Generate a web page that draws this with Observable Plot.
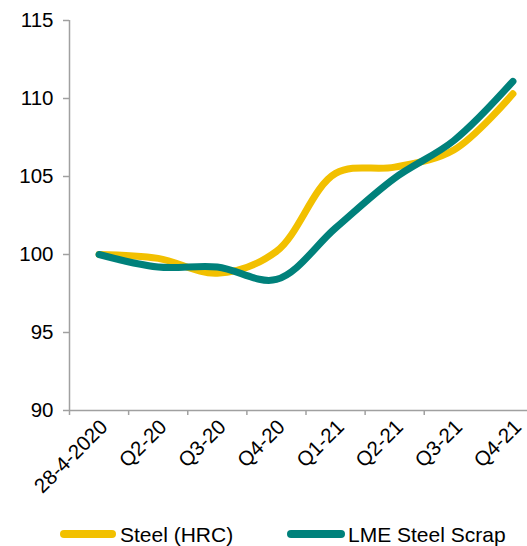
<!DOCTYPE html>
<html>
<head>
<meta charset="utf-8">
<script src="https://cdn.jsdelivr.net/npm/d3@7"></script>
<script src="https://cdn.jsdelivr.net/npm/@observablehq/plot@0.6"></script>
<style>
  html, body { margin: 0; padding: 0; background: #fff; overflow: hidden; }
  #wrap { width: 527px; font-family: "Liberation Sans", Arial, sans-serif; color: #000; }
  #legend { position: relative; width: 527px; height: 31px; font-size: 21px; }
  .sw { position: absolute; top: 15px; height: 8px; border-radius: 4px; }
  .lt { position: absolute; top: 9px; line-height: 21px; white-space: nowrap; }
</style>
</head>
<body>
<div id="wrap"><div id="chart"></div><div id="legend"></div></div>
<script>
const categories = ["28-4-2020", "Q2-20", "Q3-20", "Q4-20", "Q1-21", "Q2-21", "Q3-21", "Q4-21"];
const seriesNames = ["Steel (HRC)", "LME Steel Scrap"];
const steelHRC = [100, 99.75, 98.8, 100.2, 105.2, 105.6, 106.7, 110.3];
const lmeScrap = [100, 99.2, 99.2, 98.4, 101.7, 104.9, 107.3, 111.1];
const yTicks = [90, 95, 100, 105, 110, 115];
const colors = ["#F2C000", "#00817B"];

const data = [];
categories.forEach((c, i) => data.push({i, cat: c, series: seriesNames[0], value: steelHRC[i]}));
categories.forEach((c, i) => data.push({i, cat: c, series: seriesNames[1], value: lmeScrap[i]}));
const boundaries = categories.slice(0, -1).map((c, i) => i - 0.5);

const axisColor = "#A0A0A0";
const chart = Plot.plot({
  width: 527,
  height: 515,
  marginTop: 20,
  marginBottom: 105,
  marginLeft: 69,
  marginRight: 0,
  style: {fontFamily: "Liberation Sans, Arial, sans-serif", color: "#000", background: "#fff"},
  x: {type: "linear", domain: [-0.5, categories.length - 0.5], range: [69, 542], axis: null},
  y: {domain: [90, 115], axis: null},
  color: {domain: seriesNames, range: colors},
  marks: [
    Plot.axisY({ticks: yTicks, tickSize: 6, tickPadding: 10, fontSize: 20.5, stroke: axisColor, strokeWidth: 1.5, label: null, color: "#000"}),
    Plot.ruleX([-0.5], {y1: 90, y2: 115, stroke: axisColor, strokeWidth: 1.5}),
    Plot.axisX({ticks: boundaries, tickFormat: () => "", tickSize: 5, stroke: axisColor, strokeWidth: 1.5, label: null}),
    Plot.ruleY([90], {stroke: axisColor, strokeWidth: 1.5}),
    Plot.text(categories, {x: (d, i) => i, y: () => 90, text: d => d, rotate: -45, textAnchor: "end", dx: 5, dy: 13, fontSize: 20.5, fill: "#000"}),
    Plot.line(data, {x: "i", y: "value", z: "series", stroke: "series", curve: "catmull-rom", strokeWidth: 7, strokeLinecap: "round", strokeLinejoin: "round"})
  ]
});
document.getElementById("chart").appendChild(chart);

const legend = document.getElementById("legend");
const pos = [[60, 56, 120], [287, 58, 348]];
seriesNames.forEach((s, k) => {
  const sw = document.createElement("div");
  sw.className = "sw";
  sw.style.left = pos[k][0] + "px";
  sw.style.width = pos[k][1] + "px";
  sw.style.background = colors[k];
  legend.appendChild(sw);
  const t = document.createElement("div");
  t.className = "lt";
  t.style.left = pos[k][2] + "px";
  t.textContent = s;
  legend.appendChild(t);
});
</script>
</body>
</html>
